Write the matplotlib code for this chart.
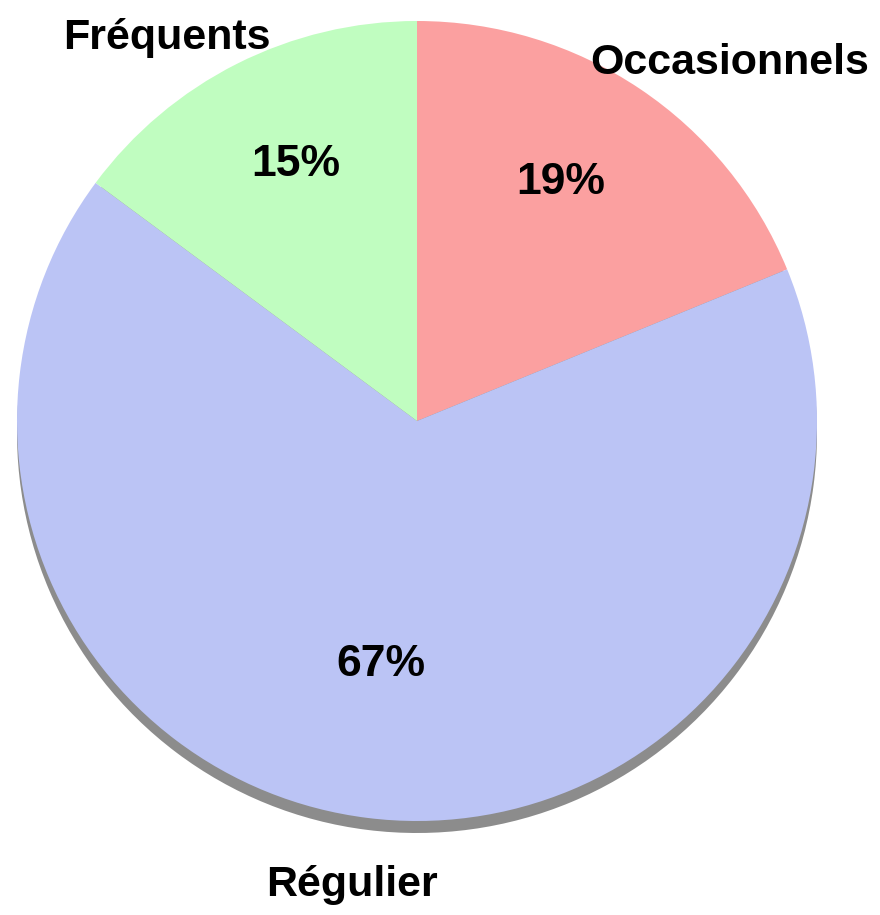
import matplotlib
matplotlib.use("Agg")
import matplotlib.pyplot as plt

categories = ["Occasionnels", "Régulier", "Fréquents"]
values = [19, 67, 15]
pct_labels = ["19%", "67%", "15%"]
colors = ["#FBA0A0", "#BBC4F5", "#C0FDC0"]

FONT = ["Liberation Sans Narrow", "Liberation Sans", "DejaVu Sans"]

fig = plt.figure(figsize=(8.8, 9.15), dpi=100)
ax = fig.add_axes([0, 0, 1, 1])

cx, cy, r = 417, 494, 400

# shadow underneath, then the pie itself
ax.pie(values, center=(cx, cy - 12), radius=r, startangle=90, counterclock=False,
       colors=["#8C8C8C"] * len(values), frame=True)
ax.pie(values, center=(cx, cy), radius=r, startangle=90, counterclock=False,
       colors=colors, frame=True)
ax.set_xlim(0, 880)
ax.set_ylim(0, 915)
ax.set_aspect("equal")
ax.axis("off")

# label positions in pixels from the top-left
label_pos = [(730, 63), (352, 885), (167, 38)]
pct_pos = [(561, 183), (381, 665), (296, 165)]
for name, (x, y) in zip(categories, label_pos):
    ax.text(x, 915 - y, name, ha="center", va="center", fontsize=31,
            fontweight="bold", family=FONT)
for lab, (x, y) in zip(pct_labels, pct_pos):
    ax.text(x, 915 - y, lab, ha="center", va="center", fontsize=32,
            fontweight="bold", family=FONT)

fig.savefig("out.png", dpi=100)
